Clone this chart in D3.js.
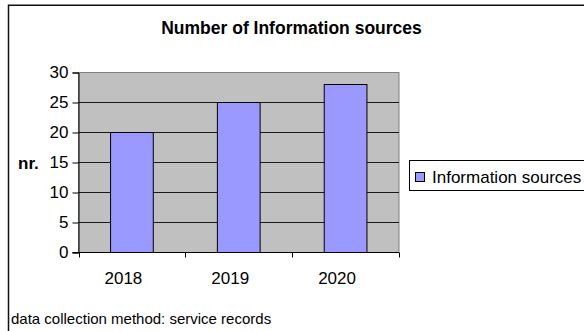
<!DOCTYPE html>
<html>
<head>
<meta charset="utf-8">
<script src="https://cdn.jsdelivr.net/npm/d3@7"></script>
<style>
  html, body { margin: 0; padding: 0; background: #fff; }
  svg { display: block; }
  text { font-family: "Liberation Sans", Arial, sans-serif; fill: #000; }
</style>
</head>
<body>
<svg id="chart" width="584" height="331"></svg>
<script>
// Chart data
const categories = ["2018", "2019", "2020"];
const values = [20, 25, 28];
const yTicks = [0, 5, 10, 15, 20, 25, 30];
const seriesName = "Information sources";
const titleText = "Number of Information sources";
const yLabel = "nr.";
const footnote = "data collection method: service records";

const svg = d3.select("#chart");
const W = 584, H = 331;

// Outer frame
svg.append("rect")
  .attr("x", 8.5).attr("y", 5.25)
  .attr("width", W + 20).attr("height", H + 20)
  .attr("fill", "#fff")
  .attr("stroke", "#111").attr("stroke-width", 1.5);

// Plot geometry
const plot = { left: 78.5, right: 399, top: 72.5, bottom: 252.5 };

const x = d3.scaleBand()
  .domain(categories)
  .range([plot.left, plot.right])
  .paddingInner(0.6)
  .paddingOuter(0.3);

const y = d3.scaleLinear()
  .domain([0, 30])
  .range([plot.bottom, plot.top]);

// Plot background
svg.append("rect")
  .attr("x", plot.left).attr("y", plot.top)
  .attr("width", plot.right - plot.left)
  .attr("height", plot.bottom - plot.top)
  .attr("fill", "#c0c0c0")
  .attr("stroke", "#808080").attr("stroke-width", 1);

// Horizontal gridlines
svg.append("g")
  .selectAll("line")
  .data(yTicks.filter(d => d > 0 && d < 30))
  .join("line")
  .attr("x1", plot.left).attr("x2", plot.right)
  .attr("y1", d => y(d)).attr("y2", d => y(d))
  .attr("stroke", "#1a1a1a").attr("stroke-width", 1);

// Bars
svg.append("g")
  .selectAll("rect")
  .data(values)
  .join("rect")
  .attr("x", (d, i) => x(categories[i]))
  .attr("y", d => y(d))
  .attr("width", x.bandwidth())
  .attr("height", d => y(0) - y(d))
  .attr("fill", "#9999ff")
  .attr("stroke", "#000").attr("stroke-width", 1);

// Y axis
const yAxis = d3.axisLeft(y).tickValues(yTicks).tickSize(6).tickPadding(4);
const gy = svg.append("g")
  .attr("transform", `translate(${plot.left},0)`)
  .call(yAxis);
gy.select(".domain").attr("stroke", "#000");
gy.selectAll(".tick line").attr("stroke", "#000");
gy.selectAll(".tick text")
  .style("font-family", "'Liberation Sans', Arial, sans-serif")
  .style("font-size", "17px")
  .attr("fill", "#000");

// X axis: ticks sit between categories
const xAxisLine = svg.append("g");
xAxisLine.append("line")
  .attr("x1", plot.left - 6).attr("x2", plot.right)
  .attr("y1", plot.bottom).attr("y2", plot.bottom)
  .attr("stroke", "#000");
const step = x.step();
const boundaries = d3.range(categories.length + 1).map(i => plot.left + i * step);
xAxisLine.selectAll("line.xt")
  .data(boundaries)
  .join("line")
  .attr("class", "xt")
  .attr("x1", d => Math.round(d) + 0.5).attr("x2", d => Math.round(d) + 0.5)
  .attr("y1", plot.bottom).attr("y2", plot.bottom + 5)
  .attr("stroke", "#000");
xAxisLine.selectAll("text")
  .data(categories)
  .join("text")
  .attr("x", d => x(d) + x.bandwidth() / 2 - 8.5)
  .attr("y", 283.5)
  .attr("text-anchor", "middle")
  .style("font-size", "17px")
  .text(d => d);

// Title
svg.append("text")
  .attr("x", 291.5).attr("y", 33.5)
  .attr("text-anchor", "middle")
  .style("font-size", "17.5px")
  .style("font-weight", "bold")
  .text(titleText);

// Y axis label
svg.append("text")
  .attr("x", 18).attr("y", 169)
  .style("font-size", "17px")
  .style("font-weight", "bold")
  .text(yLabel);

// Legend
const legend = svg.append("g");
legend.append("rect")
  .attr("x", 409.5).attr("y", 160.5)
  .attr("width", 200).attr("height", 30)
  .attr("fill", "#fff")
  .attr("stroke", "#000").attr("stroke-width", 1);
legend.append("rect")
  .attr("x", 415.5).attr("y", 172.5)
  .attr("width", 9).attr("height", 9)
  .attr("fill", "#9999ff")
  .attr("stroke", "#000").attr("stroke-width", 1);
legend.append("text")
  .attr("x", 432).attr("y", 182.5)
  .style("font-size", "17px")
  .text(seriesName);

// Footnote
svg.append("text")
  .attr("x", 11).attr("y", 323.5)
  .style("font-size", "15px")
  .text(footnote);
</script>
</body>
</html>
